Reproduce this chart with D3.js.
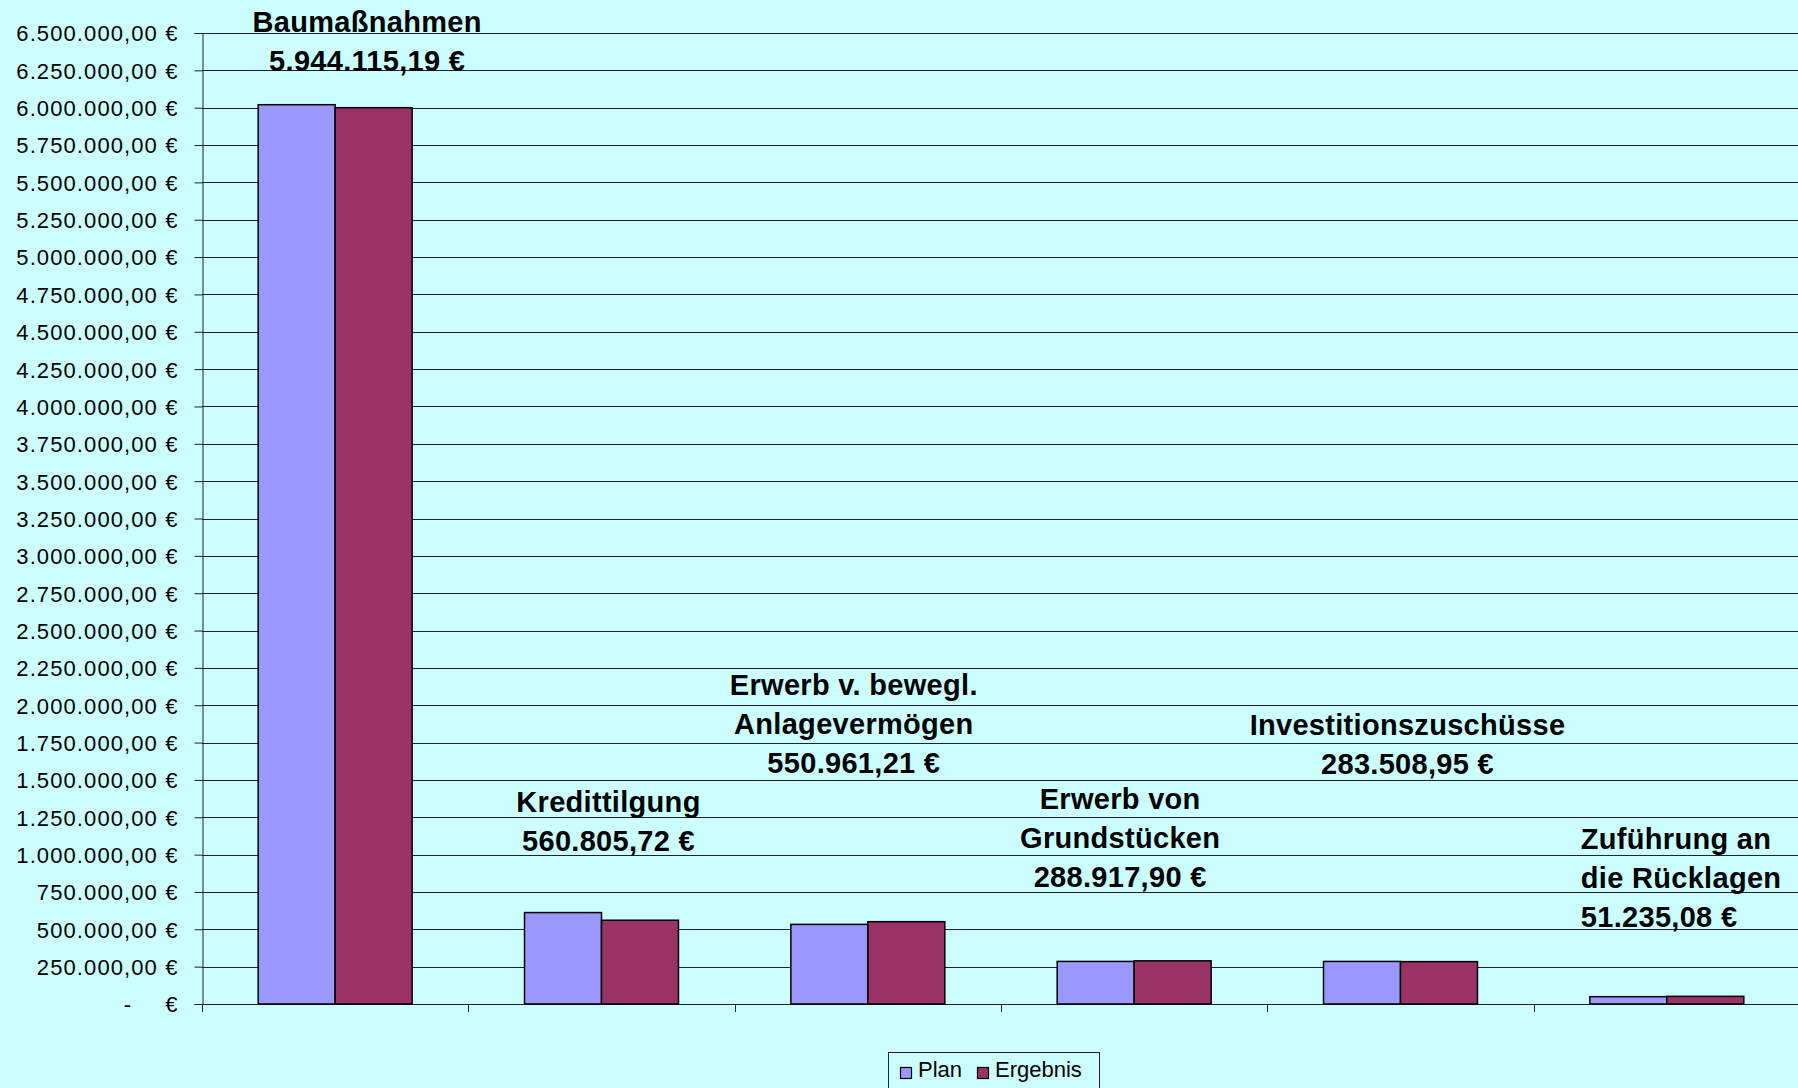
<!DOCTYPE html>
<html lang="de">
<head>
  <meta charset="UTF-8">
  <title>Plan / Ergebnis</title>
  <style>
    html, body { margin: 0; padding: 0; background: #ccffff; }
    svg { display: block; font-family: "Liberation Sans", Arial, sans-serif; }
  </style>
</head>
<body>
  <div id="chart"></div>
  <script src="https://d3js.org/d3.v7.min.js"></script>
  <script>
    // data
    var categories = ['Baumaßnahmen', 'Kredittilgung', 'Erwerb v. bewegl. Anlagevermögen',
      'Erwerb von Grundstücken', 'Investitionszuschüsse', 'Zuführung an die Rücklagen']
    var seriesNames = ['Plan', 'Ergebnis']
    var planValues = [6020000, 612000, 533000, 285000, 285000, 49000]
    var ergebnisValues = [6000000, 560806, 550961, 288918, 283509, 51235]
    var labelLines = [
      ['Baumaßnahmen', '5.944.115,19 €'],
      ['Kredittilgung', '560.805,72 €'],
      ['Erwerb v. bewegl.', 'Anlagevermögen', '550.961,21 €'],
      ['Erwerb von', 'Grundstücken', '288.917,90 €'],
      ['Investitionszuschüsse', '283.508,95 €'],
      ['Zuführung an', 'die Rücklagen', '51.235,08 €']
    ]
    var yMax = 6500000, yStep = 250000

    // layout
    var width = 1798, height = 1088
    var plotLeft = 202, plotRight = 1800, plotTop = 33, plotBottom = 1004
    var colors = {Plan: '#9999ff', Ergebnis: '#993366'}
    // where each data label box sits (offset from band centre, first baseline)
    var labelLayout = [
      {dx: 32, y: 32, anchor: 'middle'},
      {dx: 7, y: 812, anchor: 'middle'},
      {dx: -14, y: 695, anchor: 'middle'},
      {dx: -14, y: 809, anchor: 'middle'},
      {dx: 7, y: 735, anchor: 'middle'},
      {dx: -86, y: 849, anchor: 'start'}
    ]

    var de = d3.formatLocale({decimal: ',', thousands: '.', grouping: [3], currency: ['', ' €']})
    var fmt = de.format(',.2f')

    var svg = d3.select('#chart').append('svg')
      .attr('width', width)
      .attr('height', height)
    svg.append('rect')
      .attr('width', width).attr('height', height)
      .attr('fill', '#ccffff')

    var x = d3.scaleBand().domain(categories).range([plotLeft, plotRight]).padding(0)
    var x1 = d3.scaleBand().domain(seriesNames).range([0, x.bandwidth()])
      .paddingInner(0).paddingOuter(0.73)
    var y = d3.scaleLinear().domain([0, yMax]).range([plotBottom, plotTop])
    var ticks = d3.range(0, yMax + 1, yStep)

    // gridlines
    svg.append('g')
      .selectAll('line')
      .data(ticks)
      .enter()
      .append('line')
        .attr('x1', plotLeft).attr('x2', width)
        .attr('y1', function (d) { return Math.round(y(d)) + 0.5 })
        .attr('y2', function (d) { return Math.round(y(d)) + 0.5 })
        .attr('stroke', '#222')
        .attr('stroke-width', 1)

    // y axis
    var yAxis = d3.axisLeft(y)
      .tickValues(ticks)
      .tickSize(8)
      .tickPadding(16)
      .tickFormat(function (d) { return d === 0 ? '€' : fmt(d) + ' €' })
    var gy = svg.append('g')
      .attr('transform', 'translate(' + (plotLeft + 0.5) + ',0)')
      .call(yAxis)
    gy.select('.domain').attr('stroke', '#222')
    gy.selectAll('.tick line').attr('stroke', '#222')
    gy.selectAll('.tick text')
      .attr('fill', '#000')
      .style('font-size', '22px')
      .style('letter-spacing', '1.1px')
      .attr('dy', '0.36em')
    gy.selectAll('.tick').filter(function (d) { return d === 0 })
      .append('text')
        .attr('x', -75)
        .attr('dy', '0.36em')
        .attr('fill', '#000')
        .style('font-size', '22px')
        .attr('text-anchor', 'middle')
        .text('-')

    // category ticks (no labels)
    var catTicks = categories.map(function (c) { return x(c) }).concat([plotRight])
    svg.append('g')
      .selectAll('line')
      .data(catTicks)
      .enter()
      .append('line')
        .attr('x1', function (d) { return Math.round(d) + 0.5 })
        .attr('x2', function (d) { return Math.round(d) + 0.5 })
        .attr('y1', plotBottom).attr('y2', plotBottom + 8)
        .attr('stroke', '#222')

    // bars
    var rows = categories.map(function (c, i) {
      return {cat: c, values: [
        {name: 'Plan', value: planValues[i]},
        {name: 'Ergebnis', value: ergebnisValues[i]}
      ]}
    })
    svg.append('g')
      .selectAll('g')
      .data(rows)
      .enter()
      .append('g')
        .attr('transform', function (d) { return 'translate(' + x(d.cat) + ',0)' })
      .selectAll('rect')
      .data(function (d) { return d.values })
      .enter()
      .append('rect')
        .attr('x', function (d) { return x1(d.name) })
        .attr('y', function (d) { return y(d.value) })
        .attr('width', x1.bandwidth())
        .attr('height', function (d) { return y(0) - y(d.value) })
        .attr('fill', function (d) { return colors[d.name] })
        .attr('stroke', '#000')
        .attr('stroke-width', 1.5)

    // data labels
    svg.append('g')
      .selectAll('text')
      .data(labelLines)
      .enter()
      .append('text')
        .attr('text-anchor', function (d, i) { return labelLayout[i].anchor })
        .attr('font-weight', 'bold')
        .style('font-size', '29px')
        .style('letter-spacing', '0.3px')
        .attr('fill', '#000')
        .each(function (lines, i) {
          var cx = x(categories[i]) + x.bandwidth() / 2 + labelLayout[i].dx
          d3.select(this).selectAll('tspan')
            .data(lines)
            .enter()
            .append('tspan')
              .attr('x', cx)
              .attr('y', function (d, j) { return labelLayout[i].y + j * 39 })
              .text(function (d) { return d })
        })

    // legend
    var legend = svg.append('g').attr('transform', 'translate(888,1052)')
    legend.append('rect')
      .attr('x', 0.5).attr('y', 0.5)
      .attr('width', 211).attr('height', 44)
      .attr('fill', '#ccffff')
      .attr('stroke', '#222')
    var items = [{name: 'Plan', x: 12}, {name: 'Ergebnis', x: 89}]
    var li = legend.selectAll('g.item')
      .data(items)
      .enter()
      .append('g')
        .attr('class', 'item')
        .attr('transform', function (d) { return 'translate(' + d.x + ',0)' })
    li.append('rect')
      .attr('x', 0.5).attr('y', 15.5)
      .attr('width', 11).attr('height', 11)
      .attr('fill', function (d) { return colors[d.name] })
      .attr('stroke', '#000')
      .attr('stroke-width', 1.2)
    li.append('text')
      .attr('x', 18).attr('y', 25)
      .style('font-size', '22px')
      .attr('fill', '#000')
      .text(function (d) { return d.name })
  </script>
</body>
</html>
